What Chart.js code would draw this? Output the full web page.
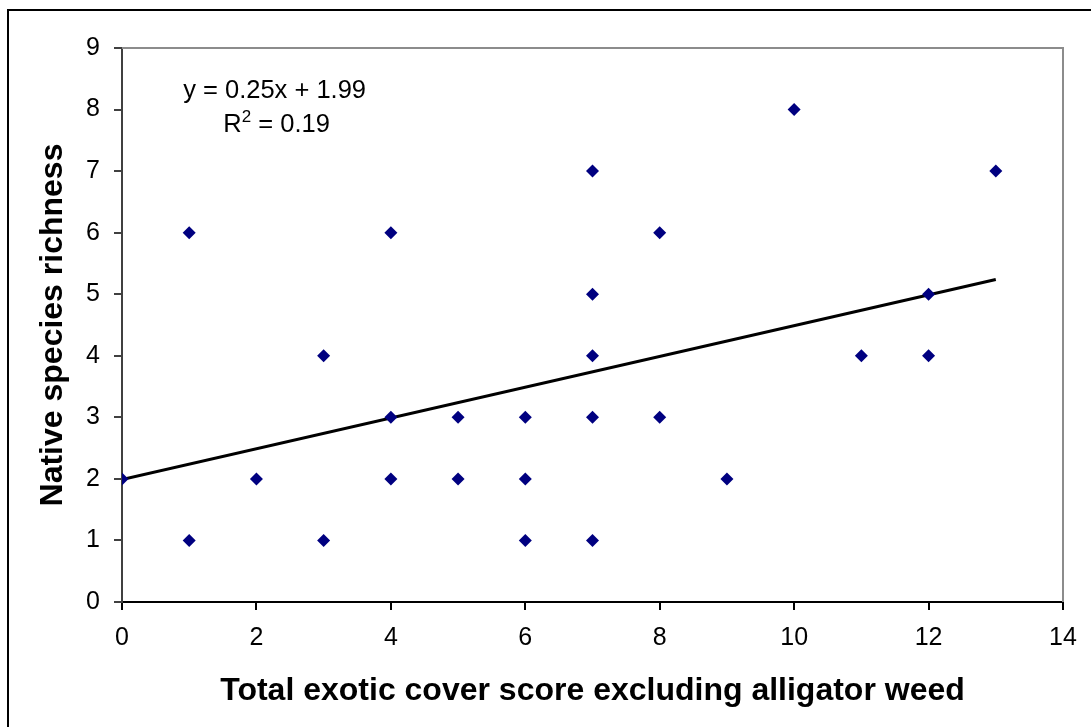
<!DOCTYPE html>
<html>
<head>
<meta charset="utf-8">
<script src="https://cdn.jsdelivr.net/npm/chart.js@4.4.1/dist/chart.umd.min.js"></script>
<style>
  html, body { margin: 0; padding: 0; background: #fff; overflow: hidden; }
  #wrap { position: relative; width: 1091px; height: 727px; }
  #frame { position: absolute; left: 7px; top: 9px; width: 1100px; height: 740px; border: 2px solid #000; box-sizing: border-box; }
  canvas { position: absolute; left: 0; top: 0; }
</style>
</head>
<body>
<div id="wrap">
  <div id="frame"></div>
  <canvas id="scatter" width="1091" height="727"></canvas>
</div>
<script>
//----------------------------------------------
// data
//----------------------------------------------
const exoticScore = [0, 1, 1, 2, 3, 3, 4, 4, 4, 5, 5, 6, 6, 6, 7, 7, 7, 7, 7, 8, 8, 9, 10, 11, 12, 12, 13];
const nativeRich  = [2, 6, 1, 2, 4, 1, 6, 3, 2, 3, 2, 3, 2, 1, 7, 5, 4, 3, 1, 6, 3, 2, 8, 4, 5, 4, 7];

// fitted line end points (y = 0.25x + 1.99)
const trendX = [0, 13];
const trendY = [1.99, 5.24];

const eqText = 'y = 0.25x + 1.99';
const r2Text = '0.19';

const points = exoticScore.map((x, i) => ({ x: x, y: nativeRich[i] }));
const trend = trendX.map((x, i) => ({ x: x, y: trendY[i] }));

const FONT = '"Liberation Sans", Arial, sans-serif';

// gray box round the plot area + the regression label
const plotExtras = {
  id: 'plotExtras',
  beforeDatasetsDraw(chart) {
    const { ctx, chartArea: a } = chart;
    ctx.save();
    ctx.strokeStyle = '#8c8c8c';
    ctx.lineWidth = 2;
    ctx.beginPath();
    ctx.moveTo(a.left, a.top);
    ctx.lineTo(a.right, a.top);
    ctx.lineTo(a.right, a.bottom);
    ctx.stroke();
    ctx.restore();
  },
  afterDraw(chart) {
    const { ctx, scales } = chart;
    const cx = scales.x.getPixelForValue(2.27);
    ctx.save();
    ctx.fillStyle = '#000';
    ctx.font = '25.5px ' + FONT;
    ctx.textAlign = 'center';
    ctx.textBaseline = 'alphabetic';
    ctx.fillText(eqText, cx, scales.y.getPixelForValue(8.19));

    // R² line with a raised 2
    const y2 = scales.y.getPixelForValue(7.63);
    const rest = ' = ' + r2Text;
    const wR = ctx.measureText('R').width;
    ctx.font = '17px ' + FONT;
    const wS = ctx.measureText('2').width;
    ctx.font = '25.5px ' + FONT;
    const wRest = ctx.measureText(rest).width;
    let x0 = cx + 2 - (wR + wS + wRest) / 2;
    ctx.textAlign = 'left';
    ctx.fillText('R', x0, y2);
    ctx.font = '17px ' + FONT;
    ctx.fillText('2', x0 + wR, y2 - 10);
    ctx.font = '25.5px ' + FONT;
    ctx.fillText(rest, x0 + wR + wS, y2);
    ctx.restore();
  }
};

const tickFont = { family: FONT, size: 25 };
const titleFont = { family: FONT, size: 32, weight: 'bold' };

const scatterCtx = document.getElementById('scatter').getContext('2d');

const scatterChart = new Chart(scatterCtx, {
  type: 'scatter',
  data: {
    datasets: [
      {
        label: 'Sites',
        data: points,
        pointStyle: 'rectRot',
        pointRadius: 6.5,
        backgroundColor: '#000080',
        borderColor: '#000080',
        borderWidth: 0,
        order: 1
      },
      {
        type: 'line',
        label: 'Linear fit',
        data: trend,
        borderColor: '#000',
        borderWidth: 3,
        pointRadius: 0,
        fill: false,
        order: 2
      }
    ]
  },
  options: {
    responsive: false,
    animation: false,
    events: [],
    layout: { padding: { left: 0, top: 48, right: 28, bottom: 0 } },
    plugins: {
      legend: { display: false },
      tooltip: { enabled: false }
    },
    scales: {
      x: {
        type: 'linear',
        min: 0,
        max: 14,
        ticks: { stepSize: 2, color: '#000', font: tickFont, padding: 13 },
        grid: { drawOnChartArea: false, drawTicks: true, tickLength: 8, color: '#000', lineWidth: 2 },
        border: { color: '#000', width: 2 },
        title: {
          display: true,
          text: 'Total exotic cover score excluding alligator weed',
          color: '#000',
          font: titleFont,
          padding: { top: 0, bottom: 17 }
        },
        afterFit(scale) { scale.height = 125; }
      },
      y: {
        type: 'linear',
        min: 0,
        max: 9,
        ticks: { stepSize: 1, color: '#000', font: tickFont, padding: 14 },
        grid: { drawOnChartArea: false, drawTicks: true, tickLength: 8, color: '#404040', lineWidth: 2 },
        border: { color: '#404040', width: 2 },
        title: {
          display: true,
          text: 'Native species richness',
          color: '#000',
          font: titleFont,
          padding: { top: 34, bottom: 0 }
        },
        afterFit(scale) { scale.width = 122; }
      }
    }
  },
  plugins: [plotExtras]
});
</script>
</body>
</html>
